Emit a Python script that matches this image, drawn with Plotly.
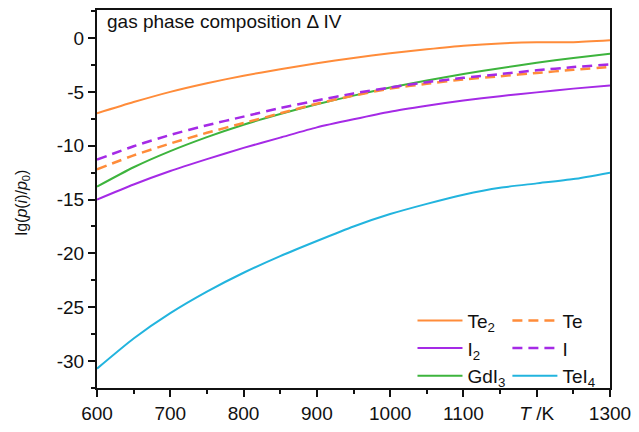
import plotly.graph_objects as go

T = [600, 650, 700, 750, 800, 850, 900, 950, 1000, 1050, 1100, 1150, 1200, 1250, 1300]

te2 = [-7.0, -5.95, -5.0, -4.2, -3.5, -2.9, -2.35, -1.85, -1.42, -1.05, -0.72, -0.5, -0.4, -0.4, -0.22]
te = [-12.2, -10.9, -9.8, -8.8, -7.9, -7.0, -6.1, -5.35, -4.7, -4.25, -3.85, -3.55, -3.25, -2.95, -2.68]
i2 = [-15.0, -13.6, -12.35, -11.25, -10.2, -9.25, -8.3, -7.55, -6.85, -6.3, -5.8, -5.4, -5.05, -4.7, -4.4]
i1 = [-11.3, -10.05, -9.0, -8.1, -7.3, -6.5, -5.8, -5.15, -4.6, -4.1, -3.7, -3.35, -3.0, -2.7, -2.45]
gdi3 = [-13.8, -12.0, -10.5, -9.2, -8.05, -7.05, -6.15, -5.35, -4.6, -3.95, -3.35, -2.8, -2.3, -1.85, -1.45]
tei4 = [-30.7, -27.9, -25.55, -23.55, -21.8, -20.25, -18.85, -17.5, -16.35, -15.4, -14.55, -13.9, -13.5, -13.1, -12.5]

x_tickvals = [600, 700, 800, 900, 1000, 1100, 1200, 1300]
x_ticktext = ["600", "700", "800", "900", "1000", "1100", "<i>T</i> /K", "1300"]
y_tickvals = [0, -5, -10, -15, -20, -25, -30]
y_ticktext = ["0", "-5", "-10", "-15", "-20", "-25", "-30"]

ORANGE = "#FF8C3A"
PURPLE = "#A52AE6"
GREEN = "#3DB43D"
CYAN = "#22B4DE"
FONT = "Liberation Sans, Arial, sans-serif"

fig = go.Figure()

def add(y, name, color, dash, legend):
    fig.add_trace(go.Scatter(
        x=T, y=y, name=name, mode="lines",
        line=dict(color=color, width=2.5 if dash != "solid" else 2, dash=dash, shape="spline", smoothing=0.6),
        legend=legend,
    ))

add(te2, "Te<sub>2</sub>", ORANGE, "solid", "legend")
add(i2, "I<sub>2</sub>", PURPLE, "solid", "legend")
add(gdi3, "GdI<sub>3</sub>", GREEN, "solid", "legend")
add(te, "Te", ORANGE, "10px,6px", "legend2")
add(i1, "I", PURPLE, "10px,6px", "legend2")
add(tei4, "TeI<sub>4</sub>", CYAN, "solid", "legend2")

axis_common = dict(
    showgrid=False, zeroline=False, showline=True, linecolor="#111", linewidth=2,
    mirror=True, ticks="outside", ticklen=7, tickwidth=1.5, tickcolor="#111",
    tickfont=dict(size=19, color="#111", family=FONT),
)

fig.update_xaxes(range=[600, 1300], tickvals=x_tickvals, ticktext=x_ticktext,
                 minor=dict(dtick=50, ticks="outside", ticklen=4, tickwidth=1.5, tickcolor="#111"),
                 **axis_common)
fig.update_yaxes(range=[-32.5, 2.6], tickvals=y_tickvals, ticktext=y_ticktext,
                 minor=dict(dtick=2.5, ticks="outside", ticklen=4, tickwidth=1.5, tickcolor="#111"),
                 **axis_common)

legend_common = dict(font=dict(size=19, color="#111", family=FONT), bgcolor="rgba(0,0,0,0)",
                     xanchor="left", yanchor="bottom", tracegroupgap=0, itemwidth=45)

fig.update_layout(
    width=639, height=432,
    margin=dict(l=97, r=22, t=8, b=32),
    paper_bgcolor="white", plot_bgcolor="white",
    font=dict(family=FONT, color="#111"),
    showlegend=True,
    legend=dict(x=0.615, y=-0.02, **legend_common),
    legend2=dict(x=0.80, y=-0.02, **legend_common),
    annotations=[
        dict(text="gas phase composition Δ IV", xref="paper", yref="paper", x=0.015, y=0.97,
             xanchor="left", yanchor="middle", showarrow=False,
             font=dict(size=19, color="#111", family=FONT)),
        dict(text="lg(<i>p</i>(<i>i</i>)/<i>p</i><sub>0</sub>)", xref="paper", yref="paper",
             x=-0.145, y=0.49, xanchor="center", yanchor="middle", textangle=-90, showarrow=False,
             font=dict(size=16, color="#111", family=FONT)),
    ],
)

fig.write_html("out.html", config={"displayModeBar": False},
               post_script="document.body.style.margin='0';document.body.style.overflow='hidden';")
